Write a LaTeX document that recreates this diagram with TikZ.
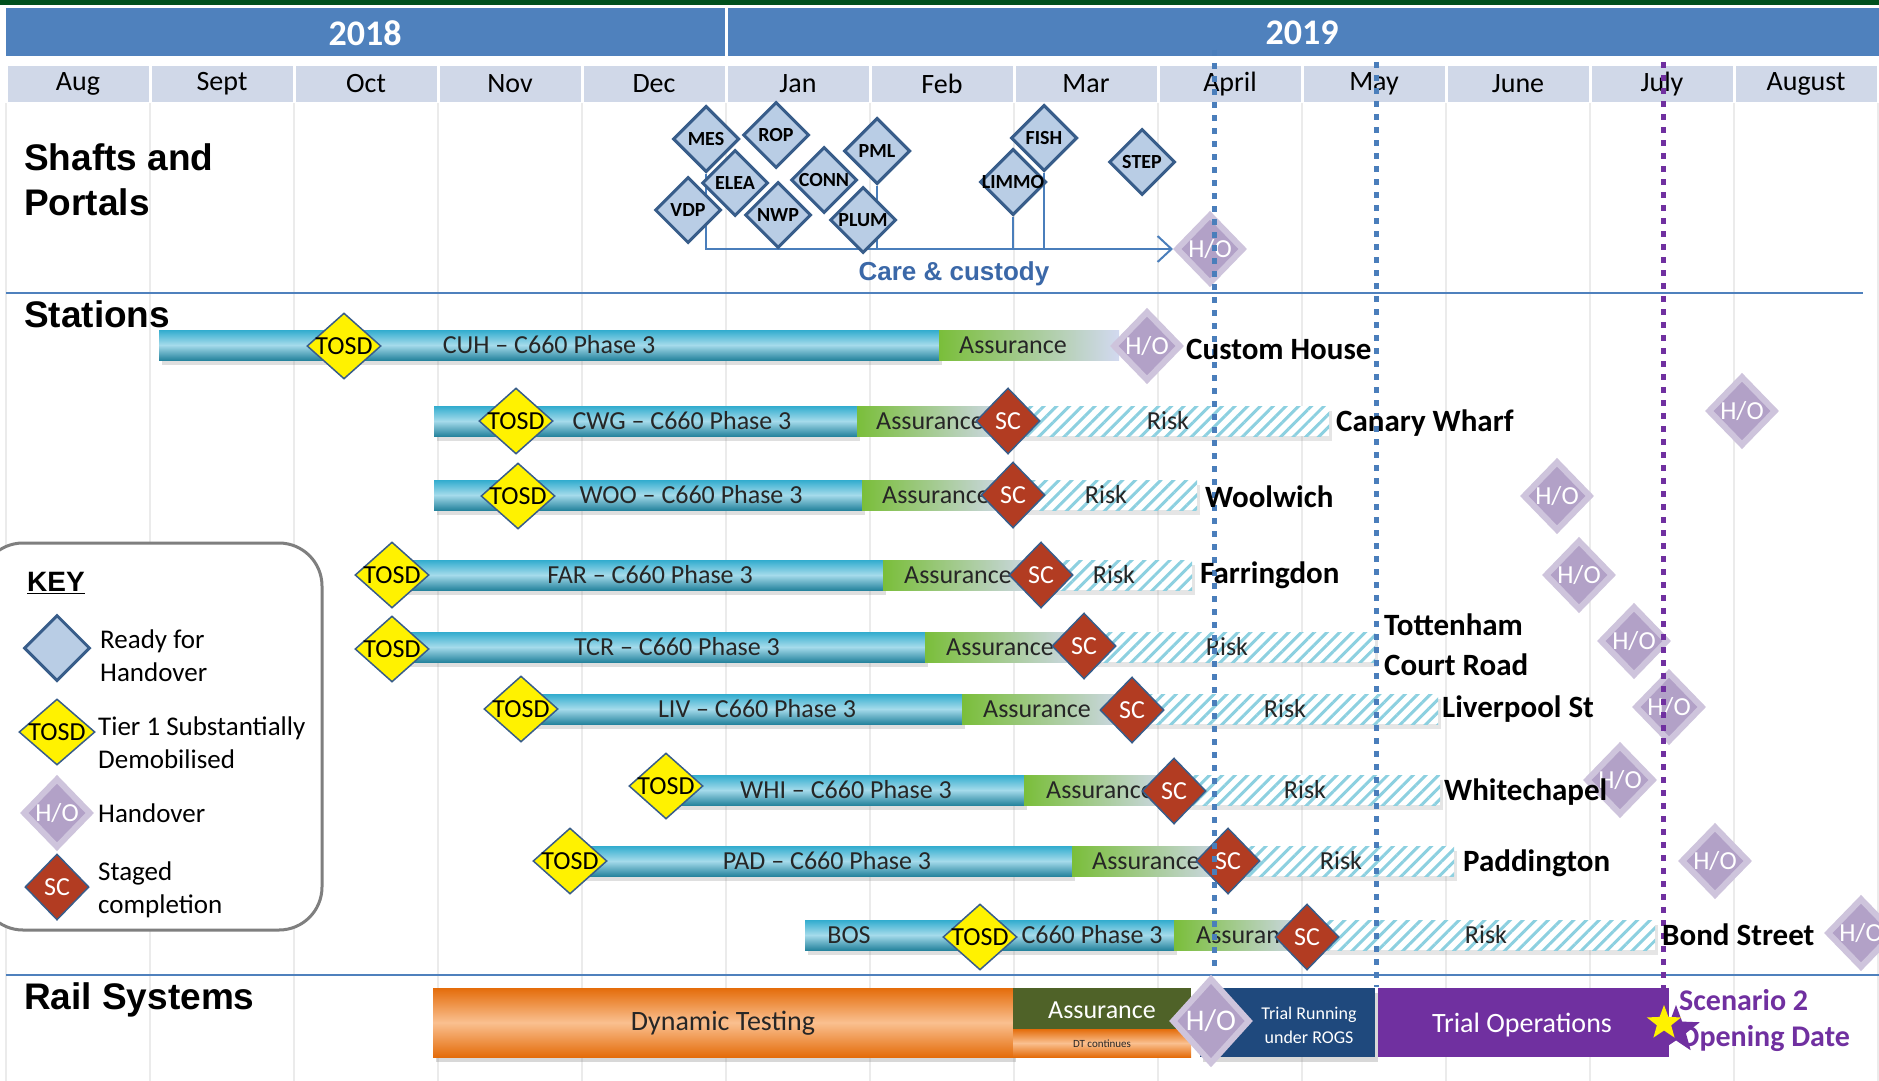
\documentclass[tikz,border=0pt]{standalone}
\usepackage{fontspec}
\usepackage{xcolor}
\usepackage{tikz}
\usetikzlibrary{arrows.meta, positioning, shapes.geometric, patterns.meta, shadows}
\newfontfamily\calfont{Carlito}
\newfontfamily\arifont{Liberation Sans}
\newcommand{\dtext}[1]{\makebox[0pt]{#1}}
\definecolor{topgreen}{RGB}{0,80,30}
\definecolor{yearblue}{RGB}{79,129,189}
\definecolor{monthcell}{RGB}{208,216,232}
\definecolor{gridgray}{RGB}{235,235,235}
\definecolor{shaftfill}{RGB}{185,205,229}
\definecolor{shaftline}{RGB}{56,93,138}
\definecolor{careblue}{RGB}{74,126,187}
\definecolor{caretext}{RGB}{59,104,168}
\definecolor{tealtop}{RGB}{49,172,206}
\definecolor{teallight}{RGB}{165,219,235}
\definecolor{tealbot}{RGB}{38,132,158}
\definecolor{asgreen}{RGB}{122,190,58}
\definecolor{aslav}{RGB}{210,217,240}
\definecolor{riskline}{RGB}{140,208,224}
\definecolor{scred}{RGB}{178,60,34}
\definecolor{hofill}{RGB}{178,161,199}
\definecolor{hoedge}{RGB}{206,196,220}
\definecolor{dtorange}{RGB}{228,108,10}
\definecolor{dtlight}{RGB}{250,192,144}
\definecolor{olivebox}{RGB}{79,98,40}
\definecolor{rogsblue}{RGB}{31,73,125}
\definecolor{opspurple}{RGB}{112,48,160}
\definecolor{bartext}{RGB}{38,38,38}
\definecolor{keyline}{RGB}{127,127,127}

\begin{document}
\begin{tikzpicture}[x=1pt, y=-1pt,
    month/.style={fill=monthcell, minimum width=141pt, minimum height=36pt, inner sep=0pt,
                  font=\calfont\fontsize{28}{28}\selectfont},
    yearlbl/.style={text=white, font=\calfont\bfseries\fontsize{36}{36}\selectfont},
    heading/.style={anchor=west, align=left, inner sep=0pt,
                    font=\arifont\bfseries\fontsize{37}{45}\selectfont},
    gridln/.style={gridgray, line width=2pt},
    sepline/.style={yearblue, line width=2.5pt},
    shaft/.style={diamond, draw=shaftline, line width=3pt, fill=shaftfill, minimum width=66pt,
                  minimum height=66pt, inner sep=0pt, font=\calfont\bfseries\fontsize{20}{20}\selectfont},
    care/.style={careblue, line width=2pt},
    tosd/.style={diamond, draw=shaftline, line width=1.5pt, fill=yellow, minimum width=74pt,
                 minimum height=66pt, inner sep=0pt, font=\calfont\fontsize{26}{26}\selectfont},
    sc/.style={diamond, draw=shaftline, line width=1.5pt, fill=scred, text=white, minimum width=64pt,
               minimum height=66pt, inner sep=0pt, font=\calfont\fontsize{26}{26}\selectfont},
    ho/.style={diamond, draw=hoedge, line width=6pt, fill=hofill, text=white, minimum width=68pt,
               minimum height=70pt, inner sep=0pt, font=\calfont\fontsize{26}{26}\selectfont},
    tealbar/.style={top color=tealtop, bottom color=tealbot, middle color=teallight,
                    drop shadow={opacity=0.25, shadow xshift=3pt, shadow yshift=-5pt}},
    assure/.style={left color=asgreen, right color=aslav},
    risk/.style={fill=white, drop shadow={opacity=0.2, shadow xshift=3pt, shadow yshift=-5pt},
                 postaction={pattern={Lines[angle=45,distance=9pt,line width=3pt]}, pattern color=riskline}},
    bartxt/.style={text=bartext, font=\calfont\fontsize{26}{26}\selectfont},
    stn/.style={anchor=west, align=left, inner sep=0pt, font=\calfont\bfseries\fontsize{31}{40}\selectfont},
    dotblue/.style={careblue, line width=5pt, dash pattern=on 6pt off 7pt},
    dotpurple/.style={opspurple, line width=5pt, dash pattern=on 6pt off 7pt},
    keytxt/.style={anchor=west, align=left, inner sep=0pt, font=\calfont\fontsize{27}{33}\selectfont},
    orangebar/.style={top color=dtorange, bottom color=dtorange, middle color=dtlight},
    railtxt/.style={font=\calfont\fontsize{28}{28}\selectfont}
  ]
  \useasboundingbox (0,0) rectangle (1879,1081);
  \fill[white] (0,0) rectangle (1879,1081);

  % header
  \fill[topgreen] (0,0) rectangle (1879,5);
  \fill[yearblue] (6,8) rectangle (725,56);
  \fill[yearblue] (728,8) rectangle (1879,56);
  \node[yearlbl] (y2018) at (365,33) {2018};
  \node[yearlbl] (y2019) at (1302,33) {2019};
  \foreach \m [count=\i from 0] in {Aug,Sept,Oct,Nov,Dec,Jan,Feb,Mar,April,May,June,July,August}
    \node[month] (m\i) at ({78+144*\i},84) {\m};
  \foreach \i in {0,...,13}
    \draw[gridln] ({6+144*\i},103) -- ({6+144*\i},1081);

  % sections
  \draw[sepline] (6,293) -- (1863,293);
  \draw[sepline] (6,975) -- (1879,975);
  \node[heading] (shafts) at (24,180) {Shafts and\\Portals};
  \node[heading] (stations) at (24,314) {Stations};
  \node[heading] (rail) at (24,1000) {Rail Systems};

  % shafts and portals
  \node[ho] (hocc) at (1210,249) {\dtext{H/O}};
  \coordinate (ccline) at (704,250);
  \node[shaft] (mes) at (706,139) {};
  \node[shaft] (pml) at (877,151) {};
  \node[shaft] (fish) at (1044,138) {};
  \node[shaft] (limmo) at (1013,182) {};
  \draw[care, -{Straight Barb[length=14pt, width=26pt]}] (mes.south) |- (hocc.west);
  \draw[care] (pml.south) -- (pml.south |- ccline);
  \draw[care] (limmo.south) -- (limmo.south |- ccline);
  \draw[care] (fish.south) -- (fish.south |- ccline);
  \node[shaft] at (mes) {\dtext{MES}};
  \node[shaft] (rop) at (776,135) {\dtext{ROP}};
  \node[shaft] at (pml) {\dtext{PML}};
  \node[shaft] at (fish) {\dtext{FISH}};
  \node[shaft] (elea) at (735,183) {\dtext{ELEA}};
  \node[shaft] (conn) at (824,180) {\dtext{CONN}};
  \node[shaft] at (limmo) {\dtext{LIMMO}};
  \node[shaft] (vdp) at (688,210) {\dtext{VDP}};
  \node[shaft] (nwp) at (778,215) {\dtext{NWP}};
  \node[shaft] (plum) at (863,220) {\dtext{PLUM}};
  \node[shaft] (step) at (1142,162) {\dtext{STEP}};
  \node[text=caretext, font=\arifont\bfseries\fontsize{26}{26}\selectfont] (custody) at (954,274) {Care \& custody};

  % stations: bars
  \shade[tealbar] (159,330) rectangle (939,360);
  \shade[assure] (939,330) rectangle (1119,360);
  \shade[tealbar] (434,406) rectangle (857,436);
  \shade[assure] (857,406) rectangle (1008,436);
  \path[risk] (1008,406) rectangle (1329,436);
  \shade[tealbar] (434,480) rectangle (862,510);
  \shade[assure] (862,480) rectangle (1013,510);
  \path[risk] (1013,480) rectangle (1197,510);
  \shade[tealbar] (395,560) rectangle (883,590);
  \shade[assure] (883,560) rectangle (1041,590);
  \path[risk] (1041,560) rectangle (1192,590);
  \shade[tealbar] (395,632) rectangle (925,662);
  \shade[assure] (925,632) rectangle (1084,662);
  \path[risk] (1084,632) rectangle (1375,662);
  \shade[tealbar] (521,694) rectangle (962,724);
  \shade[assure] (962,694) rectangle (1132,724);
  \path[risk] (1132,694) rectangle (1438,724);
  \shade[tealbar] (666,775) rectangle (1024,805);
  \shade[assure] (1024,775) rectangle (1174,805);
  \path[risk] (1174,775) rectangle (1440,805);
  \shade[tealbar] (570,846) rectangle (1072,876);
  \shade[assure] (1072,846) rectangle (1228,876);
  \path[risk] (1228,846) rectangle (1454,876);
  \shade[tealbar] (805,920) rectangle (1174,950);
  \shade[assure] (1174,920) rectangle (1307,950);
  \path[risk] (1307,920) rectangle (1655,950);

  % stations: bar texts
  \node[bartxt] (cuhtxt) at (549,345) {CUH – C660 Phase 3};
  \node[bartxt] (cuhas) at (1013,345) {Assurance};
  \node[bartxt] (cwgtxt) at (682,421) {CWG – C660 Phase 3};
  \node[bartxt] (cwgas) at (930,421) {Assurance};
  \node[bartxt] (cwgrk) at (1168,421) {Risk};
  \node[bartxt] (wootxt) at (691,495) {WOO – C660 Phase 3};
  \node[bartxt] (wooas) at (936,495) {Assurance};
  \node[bartxt] (woork) at (1106,495) {Risk};
  \node[bartxt] (fartxt) at (650,575) {FAR – C660 Phase 3};
  \node[bartxt] (faras) at (958,575) {Assurance};
  \node[bartxt] (farrk) at (1114,575) {Risk};
  \node[bartxt] (tcrtxt) at (677,647) {TCR – C660 Phase 3};
  \node[bartxt] (tcras) at (1000,647) {Assurance};
  \node[bartxt] (tcrrk) at (1227,647) {Risk};
  \node[bartxt] (livtxt) at (757,709) {LIV – C660 Phase 3};
  \node[bartxt] (livas) at (1037,709) {Assurance};
  \node[bartxt] (livrk) at (1285,709) {Risk};
  \node[bartxt] (whitxt) at (846,790) {WHI – C660 Phase 3};
  \node[bartxt] (whias) at (1100,790) {Assurance};
  \node[bartxt] (whirk) at (1305,790) {Risk};
  \node[bartxt] (padtxt) at (827,861) {PAD – C660 Phase 3};
  \node[bartxt] (padas) at (1146,861) {Assurance};
  \node[bartxt] (padrk) at (1341,861) {Risk};
  \node[bartxt] (bostxt) at (849,935) {BOS};
  \node[bartxt] (bosph) at (1092,935) {C660 Phase 3};
  \node[bartxt] (bosas) at (1250,935) {Assurance};
  \node[bartxt] (bosrk) at (1486,935) {Risk};

  % stations: milestones
  \node[tosd] (tosdcuh) at (344,346) {\dtext{TOSD}};
  \node[tosd] (tosdcwg) at (516,421) {\dtext{TOSD}};
  \node[tosd] (tosdwoo) at (518,496) {\dtext{TOSD}};
  \node[tosd] (tosdfar) at (392,575) {\dtext{TOSD}};
  \node[tosd] (tosdtcr) at (392,649) {\dtext{TOSD}};
  \node[tosd] (tosdliv) at (521,709) {\dtext{TOSD}};
  \node[tosd] (tosdwhi) at (666,786) {\dtext{TOSD}};
  \node[tosd] (tosdpad) at (570,861) {\dtext{TOSD}};
  \node[tosd] (tosdbos) at (980,937) {\dtext{TOSD}};
  \node[sc] (sccwg) at (1008,421) {\dtext{SC}};
  \node[sc] (scwoo) at (1013,495) {\dtext{SC}};
  \node[sc] (scfar) at (1041,575) {\dtext{SC}};
  \node[sc] (sctcr) at (1084,646) {\dtext{SC}};
  \node[sc] (scliv) at (1132,710) {\dtext{SC}};
  \node[sc] (scwhi) at (1174,791) {\dtext{SC}};
  \node[sc] (scpad) at (1228,861) {\dtext{SC}};
  \node[sc] (scbos) at (1307,937) {\dtext{SC}};
  \node[ho] (hocuh) at (1147,346) {\dtext{H/O}};
  \node[ho] (hocwg) at (1742,411) {\dtext{H/O}};
  \node[ho] (howoo) at (1557,496) {\dtext{H/O}};
  \node[ho] (hofar) at (1579,575) {\dtext{H/O}};
  \node[ho] (hotcr) at (1634,641) {\dtext{H/O}};
  \node[ho] (holiv) at (1669,707) {\dtext{H/O}};
  \node[ho] (howhi) at (1620,780) {\dtext{H/O}};
  \node[ho] (hopad) at (1715,861) {\dtext{H/O}};
  \node[ho] (hobos) at (1861,933) {\dtext{H/O}};

  % key
  \draw[keyline, line width=3pt, fill=white, rounded corners=43pt] (-20,543) rectangle (322,930);
  \node[anchor=west, inner sep=0pt, font=\arifont\bfseries\fontsize{28}{28}\selectfont] (keyhd) at (27,583) {\underline{KEY}};
  \node[shaft] (keyrdy) at (57,648) {};
  \node[keytxt] (keyrdytxt) at (100,656) {Ready for\\Handover};
  \node[tosd, minimum width=76pt] (keytosd) at (57,732) {\dtext{TOSD}};
  \node[keytxt] (keytosdtxt) at (98,743) {Tier 1 Substantially\\Demobilised};
  \node[ho] (keyho) at (57,813) {\dtext{H/O}};
  \node[keytxt] (keyhotxt) at (98,813) {Handover};
  \node[sc] (keysc) at (57,887) {\dtext{SC}};
  \node[keytxt] (keysctxt) at (98,890) {Staged\\completion};

  % rail systems
  \shade[orangebar, drop shadow={opacity=0.3, shadow xshift=3pt, shadow yshift=-5pt}] (433,988) rectangle (1013,1057);
  \node[railtxt, text=bartext] (dyntest) at (723,1023) {Dynamic Testing};
  \fill[olivebox] (1013,988) rectangle (1191,1029);
  \node[text=white, font=\calfont\fontsize{26}{26}\selectfont] (railas) at (1102,1010) {Assurance};
  \shade[orangebar] (1013,1029) rectangle (1191,1057);
  \node[text=bartext, font=\calfont\fontsize{11}{11}\selectfont] (dtcont) at (1102,1044) {DT continues};
  \fill[rogsblue, drop shadow={opacity=0.3, shadow xshift=3pt, shadow yshift=-5pt}] (1200,988) rectangle (1375,1057);
  \node[text=white, align=center, font=\calfont\fontsize{18}{24}\selectfont] (rogs) at (1309,1025) {Trial Running\\under ROGS};
  \fill[opspurple] (1378,988) rectangle (1669,1057);
  \node[railtxt, text=white] (trialops) at (1522,1025) {Trial Operations};
  \node[ho, minimum width=78pt, minimum height=86pt, font=\calfont\fontsize{30}{30}\selectfont] (horail) at (1211,1021) {\dtext{H/O}};

  % key dates
  \draw[dotblue] (1214,50) -- (1214,970);
  \draw[dotblue] (1376,62) -- (1376,987);
  \draw[dotpurple] (1663,62) -- (1663,988);
  \node[star, star points=5, star point ratio=2.4, fill=opspurple, minimum size=50pt, inner sep=0pt] (starbk) at (1676,1030) {};
  \node[star, star points=5, star point ratio=2.4, fill=yellow, minimum size=36pt, inner sep=0pt] (staryl) at (1664,1023) {};
  \node[anchor=west, align=left, inner sep=0pt, text=opspurple,
        font=\calfont\bfseries\fontsize{30}{36}\selectfont] (scenario) at (1679,1021) {Scenario 2\\Opening Date};

  % station names
  \node[stn] (cuhname) at (1186,349) {Custom House};
  \node[stn] (cwgname) at (1336,423) {Canary Wharf};
  \node[stn] (wooname) at (1205,497) {Woolwich};
  \node[stn] (farname) at (1200,575) {Farringdon};
  \node[stn] (tcrname) at (1384,645) {Tottenham\\Court Road};
  \node[stn] (livname) at (1442,709) {Liverpool St};
  \node[stn] (whiname) at (1444,792) {Whitechapel};
  \node[stn] (padname) at (1463,863) {Paddington};
  \node[stn] (bosname) at (1662,935) {Bond Street};
\end{tikzpicture}
\end{document}
